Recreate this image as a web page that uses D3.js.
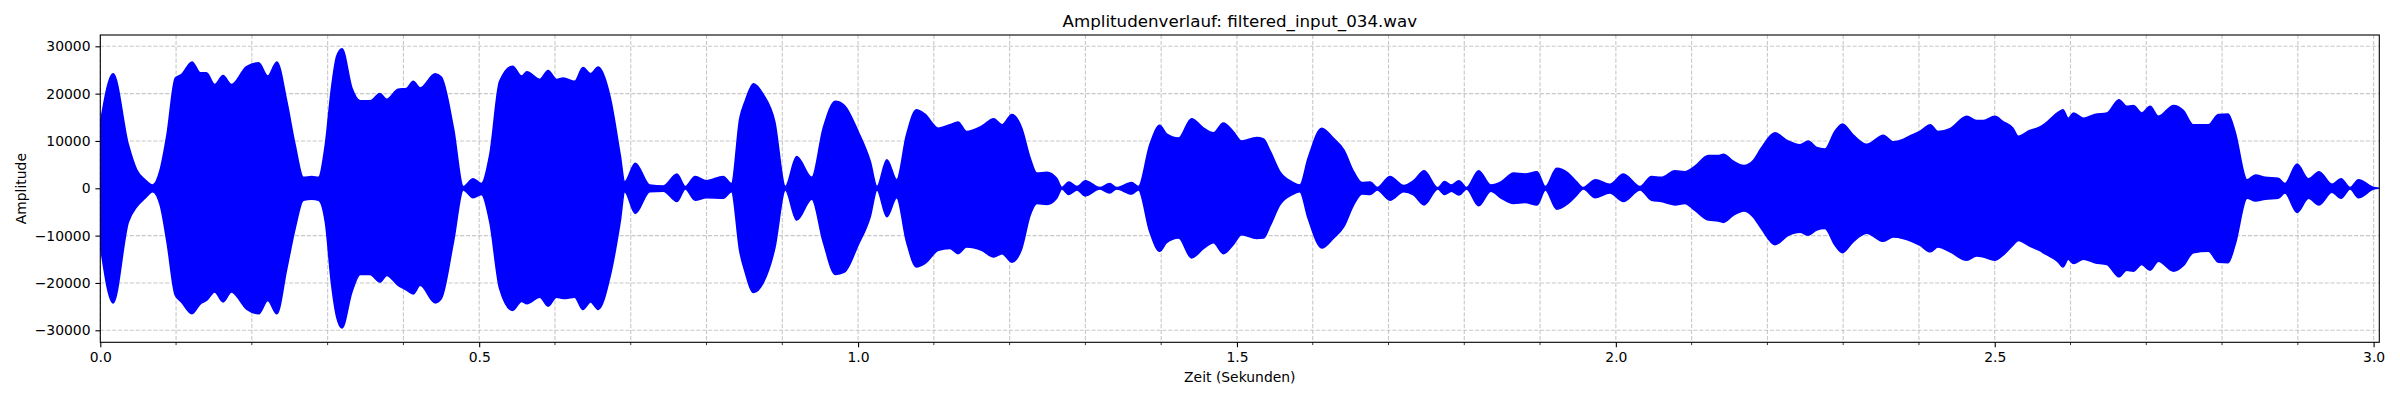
<!DOCTYPE html>
<html>
<head>
<meta charset="utf-8">
<script src="https://cdn.jsdelivr.net/npm/d3@7"></script>
<style>
  body { margin: 0; background: #fff; }
  svg text { font-family: "DejaVu Sans", sans-serif; fill: #000; }
</style>
</head>
<body>
<svg id="chart"></svg>
<script>
const width = 2400, height = 400;
const margin = {top: 35, right: 2400 - 2379.3, bottom: 400 - 342.3, left: 100.3};

const titleText = "Amplitudenverlauf: filtered_input_034.wav";
const xLabel = "Zeit (Sekunden)";
const yLabel = "Amplitude";

// envelope of the waveform (seconds / amplitude)
const times = [
  0.000, 0.017, 0.037, 0.048, 0.059, 0.069, 0.079, 0.088, 0.099, 0.107, 0.121, 0.132, 0.140, 0.151, 0.162, 0.173, 0.193, 0.209, 0.221, 0.233, 0.246, 0.257, 0.268, 0.279, 0.288, 0.297, 0.305, 0.312, 0.319, 0.332, 0.343, 0.356, 0.369, 0.378, 0.393, 0.404, 0.413,
  0.422, 0.442, 0.450, 0.466, 0.479, 0.492, 0.503, 0.514, 0.527, 0.544, 0.556, 0.563, 0.580, 0.591, 0.602, 0.611, 0.626, 0.637, 0.647, 0.657, 0.673, 0.686, 0.692, 0.706, 0.725, 0.743, 0.761, 0.772, 0.785, 0.800, 0.822, 0.833, 0.844,
  0.851, 0.862, 0.875, 0.890, 0.904, 0.919, 0.939, 0.954, 0.970, 0.982, 1.000, 1.016, 1.025, 1.038, 1.051, 1.064, 1.077, 1.088, 1.106, 1.121, 1.132, 1.143, 1.163, 1.179, 1.190, 1.203, 1.216, 1.227, 1.236, 1.249, 1.262, 1.269, 1.278,
  1.289, 1.300, 1.319, 1.332, 1.341, 1.361, 1.370, 1.385, 1.398, 1.407, 1.423, 1.440, 1.456, 1.469, 1.482, 1.495, 1.506, 1.526, 1.535, 1.544, 1.557, 1.572, 1.583, 1.594, 1.612, 1.627, 1.641, 1.654, 1.665, 1.676, 1.685, 1.702,
  1.720, 1.733, 1.747, 1.765, 1.774, 1.783, 1.793, 1.803, 1.819, 1.835, 1.849, 1.865, 1.880, 1.896, 1.907, 1.922, 1.937, 1.948, 1.957, 1.973, 1.992, 2.010, 2.032, 2.047, 2.060, 2.078, 2.091, 2.104, 2.122, 2.135,
  2.142, 2.155, 2.169, 2.181, 2.192, 2.210, 2.227, 2.243, 2.254, 2.265, 2.276, 2.289, 2.299, 2.313, 2.331, 2.353, 2.366, 2.379, 2.390, 2.401, 2.415, 2.425, 2.441, 2.463, 2.476, 2.485, 2.500, 2.511, 2.524, 2.531, 2.546, 2.559,
  2.566, 2.584, 2.590, 2.597, 2.604, 2.617, 2.632, 2.648, 2.664, 2.674, 2.683, 2.694, 2.705, 2.716, 2.736, 2.749, 2.762, 2.782, 2.795, 2.808, 2.817, 2.833, 2.844, 2.857, 2.874, 2.883, 2.899, 2.914, 2.928, 2.945, 2.957, 2.969, 2.980, 3.000, 3.007
];
const upperEnv = [
  13700, 24200, 9200, 3900, 1800, 700, 3900, 11300, 23300, 24000, 26700, 24400, 24400, 21900, 23800, 21900, 25700, 26500, 23700, 26700, 18400, 9200, 2300, 2500, 2300, 9200, 21000, 27900, 29500, 21200, 18500, 18500, 20000, 18800, 20900, 21100, 22600,
  21200, 24200, 23500, 12700, 350, 2000, 1000, 7100, 22600, 25800, 23700, 24600, 23000, 24900, 23000, 23300, 22600, 25500, 24200, 25600, 19100, 7100, 1400, 5300, 700, 500, 3000, 350, 2500, 1600, 2500, 1000, 14800,
  18400, 22100, 19800, 14100, 350, 6700, 2300, 12700, 18400, 17500, 12000, 5700, 350, 6000, 1800, 11300, 16600, 15700, 12700, 13400, 14000, 12000, 13100, 14700, 13400, 15600, 12700, 6400, 3200, 3400, 2100, 150, 1300,
  350, 1600, 150, 1000, 150, 1200, 350, 9200, 13300, 11500, 10600, 14700, 12700, 11700, 13800, 12000, 10000, 10700, 10400, 7800, 3400, 1400, 700, 6400, 12700, 10600, 8100, 3500, 1200, 1300, 150, 2500,
  600, 1600, 3700, 100, 1400, 700, 1600, 150, 3700, 700, 1400, 3200, 3000, 3500, 350, 4200, 3200, 1400, 150, 1800, 850, 3000, 350, 2500, 2300, 3700, 3500, 4600, 6900, 6900,
  7200, 5700, 4800, 5800, 8500, 11700, 10000, 9200, 10000, 8600, 8300, 12000, 13600, 11300, 9300, 11200, 9800, 10300, 11200, 12000, 13400, 12000, 12600, 15200, 14300, 14300, 15200, 14100, 12700, 11000, 12200, 12900,
  13600, 16100, 16600, 14800, 15900, 14800, 15600, 15900, 18700, 17300, 17500, 15900, 17300, 15200, 17500, 16400, 13400, 13400, 15600, 15700, 12000, 1800, 2800, 2300, 2100, 1000, 5100, 2000, 3500, 850, 2000, 150, 1800, 150, 0
];
const lowerEnv = [
  -12000, -24200, -7100, -3900, -2100, -700, -3500, -11300, -22600, -24000, -26500, -24400, -23700, -21900, -24000, -21900, -25500, -26500, -23700, -26500, -17000, -8500, -2500, -2300, -2500, -7100, -20000, -27200, -29500, -21900, -18200, -18200, -19800, -18400, -20500, -21500, -22300,
  -20500, -24200, -23300, -11300, -350, -2000, -1300, -7100, -21200, -25800, -23900, -24400, -23000, -24900, -23000, -23300, -23000, -25600, -24000, -25600, -18400, -7100, -700, -5300, -700, -600, -2800, -150, -2500, -2000, -2100, -700, -13400,
  -17700, -22000, -19900, -12700, -350, -6700, -2300, -11300, -18200, -17700, -12000, -6000, -350, -6000, -2000, -11300, -16600, -15900, -13100, -12700, -13800, -12400, -13100, -14500, -13800, -15600, -12700, -5700, -3200, -3400, -2100, -150, -1300,
  -350, -1600, -150, -1000, -150, -1200, -350, -9200, -13300, -11500, -10500, -14700, -12700, -11500, -13800, -11900, -9800, -10600, -10500, -7800, -3400, -1400, -700, -6400, -12600, -10600, -8100, -3500, -1200, -1300, -350, -2500,
  -700, -1400, -3500, -150, -1300, -600, -1400, -150, -3700, -600, -2100, -3200, -3000, -3500, -350, -4400, -3200, -1500, -150, -2000, -1000, -2800, -350, -2500, -2800, -3500, -3200, -4600, -6700, -6900,
  -7200, -5700, -4800, -6000, -8500, -11900, -10000, -9300, -9900, -8800, -8500, -12000, -13600, -11300, -9500, -11200, -10300, -10600, -11200, -12000, -13400, -12400, -13400, -15200, -14300, -14500, -15200, -14100, -12000, -11000, -12200, -13100,
  -13800, -15600, -16600, -15000, -15900, -15000, -15700, -16100, -18700, -17300, -17500, -16100, -17300, -15400, -17500, -16300, -13600, -13300, -15600, -15700, -12000, -2100, -2700, -2300, -2100, -1000, -5100, -2100, -3500, -850, -2100, -150, -2000, -150, 0
];

const xMajorTicks = [0, 0.5, 1.0, 1.5, 2.0, 2.5, 3.0];
const xMinorTicks = [0.1, 0.2, 0.3, 0.4, 0.6, 0.7, 0.8, 0.9, 1.1, 1.2, 1.3, 1.4, 1.6, 1.7, 1.8, 1.9, 2.1, 2.2, 2.3, 2.4, 2.6, 2.7, 2.8, 2.9];
const yTicks = [-30000, -20000, -10000, 0, 10000, 20000, 30000];

const data = times.map((t, i) => ({t: t, hi: upperEnv[i], lo: lowerEnv[i]}));

const innerW = width - margin.left - margin.right;
const innerH = height - margin.top - margin.bottom;

const svg = d3.select("#chart")
  .attr("width", width)
  .attr("height", height);

const g = svg.append("g")
  .attr("transform", `translate(${margin.left},${margin.top})`);

const x = d3.scaleLinear().domain([0, 3.0075]).range([0, innerW]);
const y = d3.scaleLinear().domain([-32540, 32390]).range([innerH, 0]);

// grid
const gridStyle = sel => sel
  .attr("stroke", "#b0b0b0")
  .attr("stroke-opacity", 0.7)
  .attr("stroke-width", 1.1)
  .attr("stroke-dasharray", "4.1,1.8");

g.append("g").selectAll("line")
  .data(xMajorTicks.concat(xMinorTicks))
  .enter().append("line")
  .attr("x1", d => x(d)).attr("x2", d => x(d))
  .attr("y1", 0).attr("y2", innerH)
  .call(gridStyle);

g.append("g").selectAll("line")
  .data(yTicks)
  .enter().append("line")
  .attr("x1", 0).attr("x2", innerW)
  .attr("y1", d => y(d)).attr("y2", d => y(d))
  .call(gridStyle);

// waveform
g.append("clipPath").attr("id", "clip")
  .append("rect").attr("width", innerW).attr("height", innerH);

const area = d3.area()
  .x(d => x(d.t))
  .y0(d => y(d.lo))
  .y1(d => y(d.hi))
  .curve(d3.curveMonotoneX);

g.append("path")
  .datum(data)
  .attr("clip-path", "url(#clip)")
  .attr("fill", "#0000ff")
  .attr("stroke", "#0000ff")
  .attr("stroke-width", 1.6)
  .attr("stroke-linejoin", "round")
  .attr("d", area);

// axes
const xAxis = g.append("g")
  .attr("transform", `translate(0,${innerH})`)
  .call(d3.axisBottom(x).tickValues(xMajorTicks).tickFormat(d3.format(".1f"))
    .tickSize(4.9).tickPadding(4.9));
xAxis.append("g").selectAll("line")
  .data(xMinorTicks)
  .enter().append("line")
  .attr("x1", d => x(d)).attr("x2", d => x(d))
  .attr("y1", 0).attr("y2", 2.8)
  .attr("stroke", "#000").attr("stroke-width", 0.8);

const yAxis = g.append("g")
  .call(d3.axisLeft(y).tickValues(yTicks).tickFormat(d3.format("d"))
    .tickSize(4.9).tickPadding(4.9));

[xAxis, yAxis].forEach(a => {
  a.select(".domain").remove();
  a.selectAll(".tick line").attr("stroke", "#000").attr("stroke-width", 1.1);
  a.selectAll("text").attr("font-size", "13.9px").attr("font-family", "DejaVu Sans");
});

// frame
g.append("rect")
  .attr("width", innerW).attr("height", innerH)
  .attr("fill", "none").attr("stroke", "#000").attr("stroke-width", 1.1);

// labels
svg.append("text")
  .attr("x", margin.left + innerW / 2).attr("y", 26.7)
  .attr("text-anchor", "middle")
  .attr("font-size", "16.7px")
  .text(titleText);

svg.append("text")
  .attr("x", margin.left + innerW / 2).attr("y", 381.5)
  .attr("text-anchor", "middle")
  .attr("font-size", "13.9px")
  .text(xLabel);

svg.append("text")
  .attr("transform", `translate(26,${margin.top + innerH / 2}) rotate(-90)`)
  .attr("text-anchor", "middle")
  .attr("font-size", "13.9px")
  .text(yLabel);
</script>
</body>
</html>
